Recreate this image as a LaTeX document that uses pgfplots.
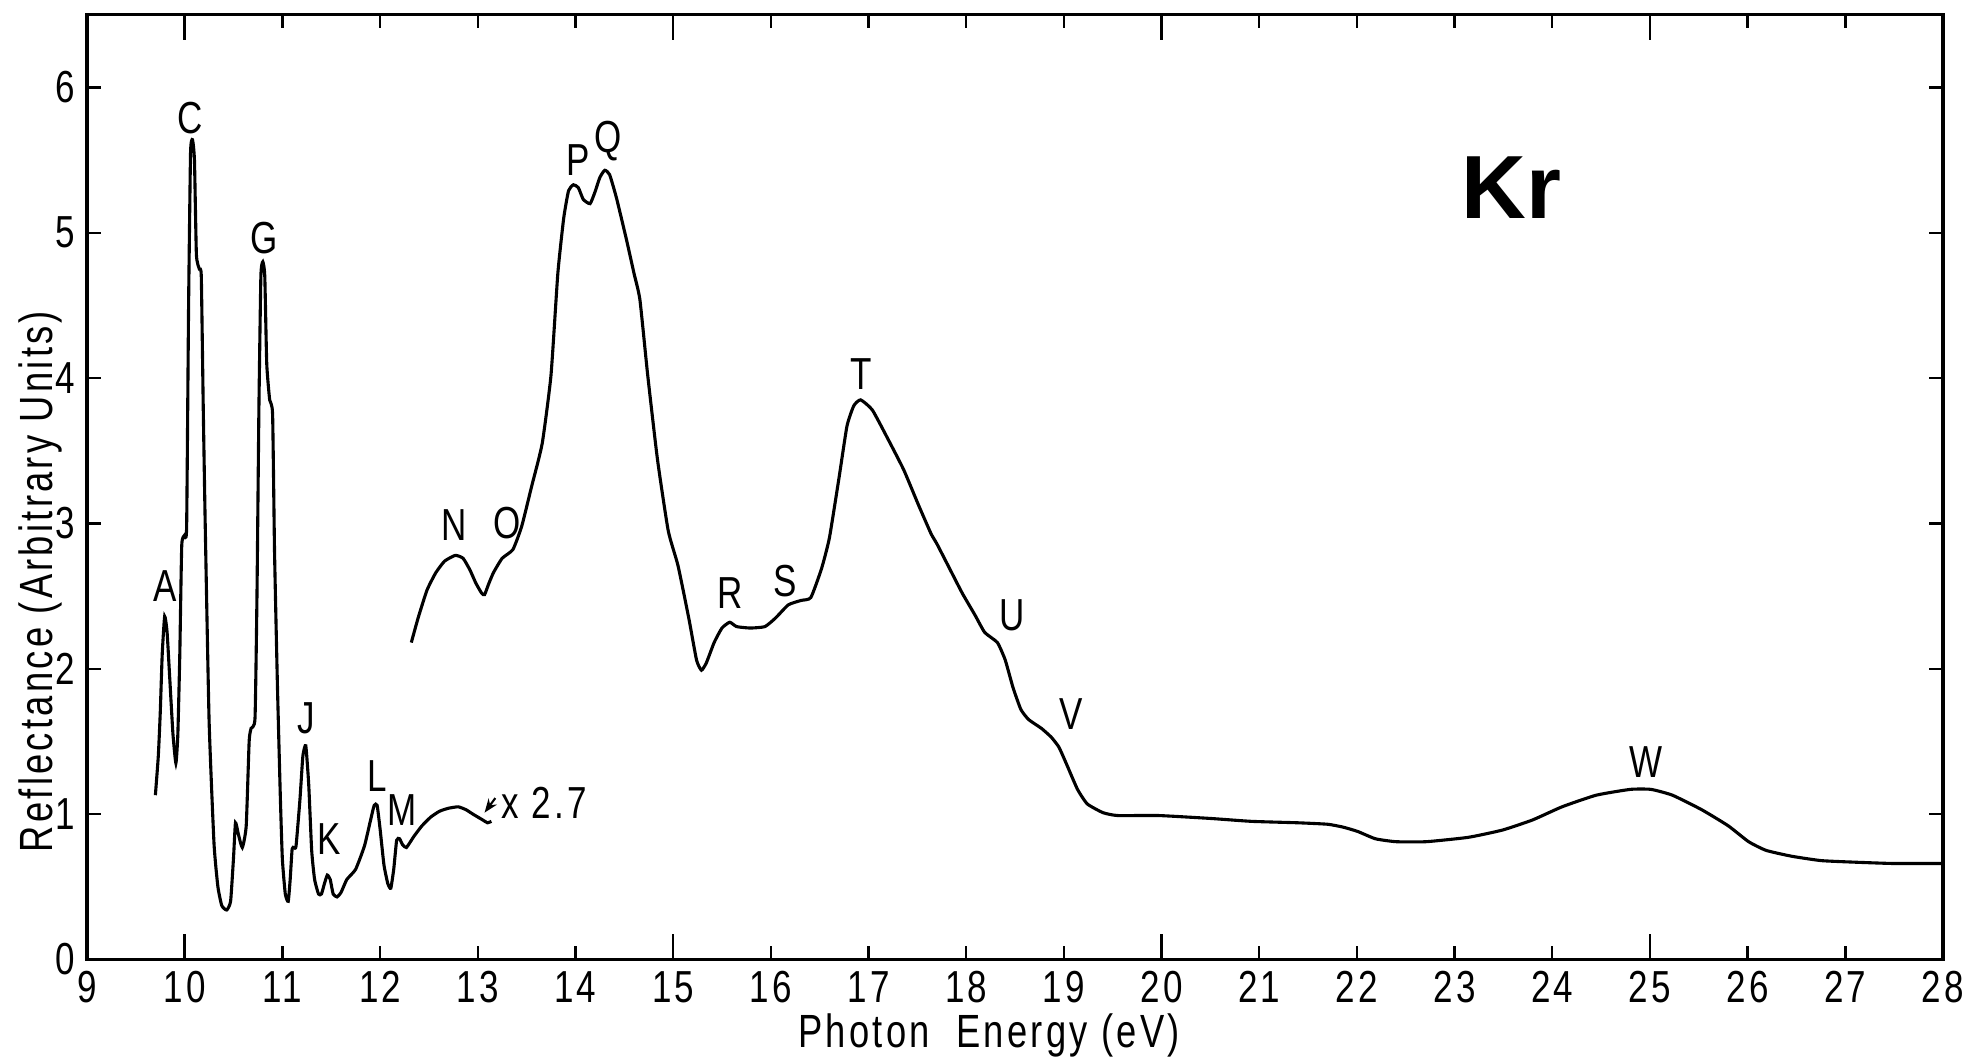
\documentclass[border=0pt]{standalone}
\usepackage{fontspec}
\setmainfont{Liberation Sans}
\newfontfamily\narrowfont{Liberation Sans}[FakeStretch=0.78, LetterSpace=7]
\newfontfamily\krfont{Liberation Sans}
\usepackage{pgfplots}
\pgfplotsset{compat=1.18}
\usetikzlibrary{arrows.meta}
\tikzset{lbl/.style={font=\narrowfont\fontsize{13}{13}\selectfont}}

% low-energy curve (true scale)
\pgfplotstableread{
x y
9.70 1.13
9.73 1.40
9.75 1.70
9.77 2.10
9.795 2.36
9.82 2.25
9.85 1.90
9.88 1.55
9.91 1.35
9.93 1.55
9.95 2.10
9.97 2.85
10.00 2.92
10.02 2.98
10.04 4.50
10.06 5.55
10.08 5.64
10.10 5.50
10.12 4.85
10.15 4.75
10.17 4.70
10.19 3.80
10.21 3.00
10.25 1.64
10.30 0.80
10.34 0.50
10.38 0.37
10.43 0.34
10.47 0.40
10.50 0.70
10.52 0.94
10.55 0.86
10.59 0.77
10.63 0.92
10.66 1.50
10.68 1.59
10.72 1.66
10.74 2.50
10.76 3.80
10.78 4.70
10.80 4.80
10.82 4.70
10.84 4.10
10.87 3.85
10.90 3.75
10.92 2.80
10.95 1.87
10.98 1.10
11.00 0.69
11.03 0.45
11.06 0.40
11.08 0.55
11.10 0.76
11.12 0.77
11.14 0.78
11.18 1.10
11.21 1.40
11.24 1.47
11.27 1.20
11.30 0.75
11.33 0.55
11.37 0.45
11.40 0.45
11.43 0.52
11.46 0.58
11.49 0.55
11.52 0.45
11.56 0.43
11.60 0.46
11.66 0.55
11.75 0.62
11.84 0.78
11.90 0.95
11.94 1.06
11.97 1.06
12.00 0.90
12.04 0.65
12.08 0.52
12.11 0.49
12.14 0.62
12.17 0.82
12.20 0.83
12.23 0.79
12.27 0.77
12.35 0.85
12.43 0.92
12.52 0.98
12.61 1.02
12.70 1.04
12.80 1.05
12.88 1.03
12.95 1.00
13.05 0.96
13.10 0.94
13.14 0.95
}\lowcurve

% curve above 12.3 eV (x 2.7 for the part left of 15 eV)
\pgfplotstableread{
x y
12.32 2.18
12.39 2.35
12.48 2.54
12.57 2.66
12.66 2.74
12.77 2.78
12.85 2.76
12.92 2.68
12.98 2.59
13.04 2.52
13.07 2.51
13.11 2.58
13.16 2.66
13.25 2.76
13.36 2.82
13.45 2.98
13.55 3.25
13.66 3.55
13.75 4.02
13.82 4.72
13.88 5.10
13.93 5.29
13.98 5.33
14.03 5.31
14.08 5.23
14.15 5.20
14.20 5.28
14.25 5.38
14.30 5.43
14.35 5.40
14.42 5.24
14.52 4.96
14.60 4.72
14.66 4.54
14.74 4.02
14.84 3.44
14.95 2.95
15.05 2.71
15.16 2.35
15.24 2.06
15.29 1.99
15.34 2.04
15.42 2.18
15.50 2.28
15.58 2.32
15.65 2.29
15.79 2.28
15.94 2.29
16.05 2.35
16.18 2.44
16.31 2.47
16.41 2.49
16.52 2.69
16.60 2.90
16.70 3.32
16.78 3.67
16.85 3.81
16.92 3.85
17.04 3.78
17.20 3.58
17.36 3.37
17.51 3.13
17.64 2.93
17.70 2.86
17.83 2.69
17.96 2.52
18.09 2.37
18.19 2.25
18.32 2.18
18.40 2.06
18.48 1.87
18.56 1.72
18.64 1.65
18.77 1.59
18.87 1.53
18.95 1.46
19.03 1.34
19.14 1.17
19.24 1.07
19.40 1.01
19.55 0.99
19.97 0.99
20.50 0.97
20.92 0.95
21.40 0.94
21.70 0.93
21.86 0.91
22.01 0.88
22.19 0.83
22.40 0.81
22.71 0.81
23.14 0.84
23.49 0.89
23.80 0.96
24.10 1.05
24.45 1.13
24.80 1.17
25.01 1.17
25.23 1.13
25.53 1.03
25.80 0.92
26.01 0.81
26.19 0.75
26.45 0.71
26.75 0.68
27.06 0.67
27.49 0.66
28.00 0.66
}\highcurve

\begin{document}
\begin{tikzpicture}
\begin{axis}[name=ax, scale only axis, width=18.9cm, height=9.62cm,
  xmin=9, xmax=28, ymin=0, ymax=6.5,
  xtick={9,...,28}, ytick={0,...,6},
  tick align=inside, major tick length=0.14cm,
  extra x ticks={10,15,20,25}, extra x tick labels={},
  extra x tick style={major tick length=0.26cm},
  /pgf/number format/assume math mode=true,
  ticklabel style={font=\narrowfont\fontsize{13}{13}\selectfont},
  xlabel={Photon\ \ Energy (eV)}, ylabel={Reflectance (Arbitrary Units)},
  label style={font=\narrowfont\fontsize{13.5}{13.5}\selectfont},
  xlabel style={at={(axis description cs:0.486,0)}, yshift=-0.77cm, anchor=center},
  ylabel style={at={(axis description cs:-0.025,0.40)}, anchor=center},
  axis line style={line width=0.9pt},
  every tick/.style={black, line width=0.7pt},
]
\addplot[black, line width=0.9pt, smooth, tension=0.3] table[x=x,y=y] {\lowcurve};
\addplot[black, line width=0.9pt, smooth, tension=0.3] table[x=x,y=y] {\highcurve};

\node[lbl] at (axis cs:9.80,2.57) {A};
\node[lbl] at (axis cs:10.06,5.79) {C};
\node[lbl] at (axis cs:10.81,4.96) {G};
\node[lbl] at (axis cs:11.24,1.66) {J};
\node[lbl] at (axis cs:11.48,0.83) {K};
\node[lbl] at (axis cs:11.97,1.26) {L};
\node[lbl] at (axis cs:12.23,1.03) {M};
\node[lbl] at (axis cs:12.76,2.99) {N};
\node[lbl] at (axis cs:13.30,3.00) {O};
\node[lbl] at (axis cs:14.03,5.50) {P};
\node[lbl] at (axis cs:14.33,5.63) {Q};
\node[lbl] at (axis cs:15.58,2.52) {R};
\node[lbl] at (axis cs:16.15,2.60) {S};
\node[lbl] at (axis cs:16.93,4.03) {T};
\node[lbl] at (axis cs:18.47,2.37) {U};
\node[lbl] at (axis cs:19.07,1.69) {V};
\node[lbl] at (axis cs:24.96,1.36) {W};
\node[lbl, anchor=west] at (axis cs:13.12,1.08) {x 2.7};
\draw[-{Stealth[length=4pt]}, line width=0.6pt] (axis cs:13.18,1.11) -- (axis cs:13.07,1.01);
\node[font=\krfont\fontsize{26}{26}\selectfont\bfseries] at (axis cs:23.58,5.31) {Kr};
\end{axis}
\pgfresetboundingbox
\path ([xshift=-0.886cm,yshift=-1.02cm]ax.south west) rectangle ([xshift=0.214cm,yshift=0.15cm]ax.north east);
\end{tikzpicture}
\end{document}
